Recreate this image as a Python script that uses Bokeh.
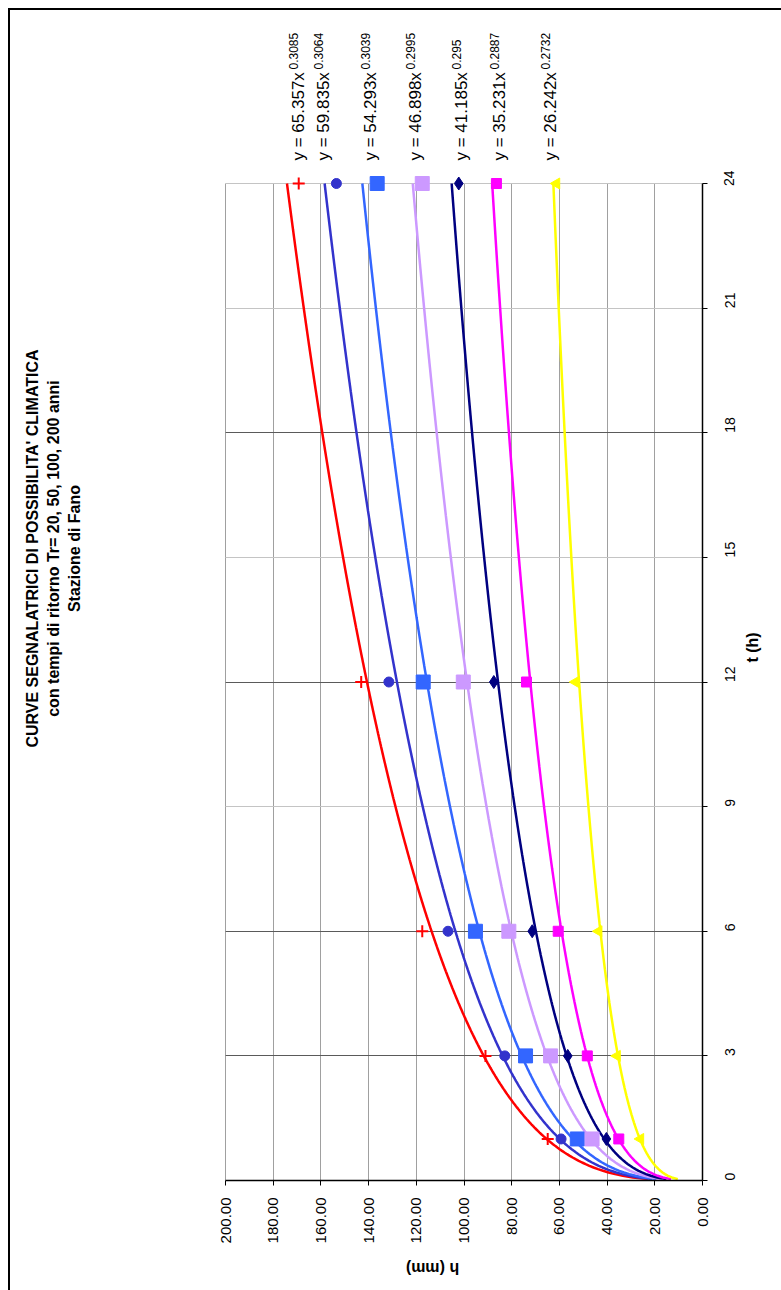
import numpy as np
from math import pi
from bokeh.plotting import figure
from bokeh.layouts import row, column
from bokeh.models import Range1d, SingleIntervalTicker, FixedTicker, PrintfTickFormatter, Grid
from bokeh.core.properties import value
from bokeh.embed import file_html
from bokeh.resources import INLINE

# ---- data ----
durations = [1, 3, 6, 12, 24]                      # t (h)
h_series1 = [64.9, 91.0, 117.5, 143.1, 169.3]       # red +
h_series2 = [59.3, 82.9, 106.7, 131.5, 153.5]       # blue circle
h_series3 = [52.5, 74.2, 95.2, 117.1, 136.4]        # light blue square
h_series4 = [46.3, 63.7, 81.2, 100.3, 117.5]        # lilac square
h_series5 = [40.3, 56.5, 71.4, 87.5, 102.2]         # navy diamond
h_series6 = [35.1, 48.3, 60.5, 73.8, 86.4]          # magenta square
h_series7 = [26.0, 35.8, 43.5, 53.2, 61.2]          # yellow triangle

# power-law trendline coefficients printed on the chart: y = a * x^b
trend_a = [65.357, 59.835, 54.293, 46.898, 41.185, 35.231, 26.242]
trend_b = [0.3085, 0.3064, 0.3039, 0.2995, 0.295, 0.2887, 0.2732]
trend_a_txt = ["65.357", "59.835", "54.293", "46.898", "41.185", "35.231", "26.242"]
trend_b_txt = ["0.3085", "0.3064", "0.3039", "0.2995", "0.295", "0.2887", "0.2732"]
trend_t_start = 1 / 30
trend_t_end = 24

h_max = 200
t_max = 24
h_tick_step = 20
t_tick_step = 3
t_dark_lines = [3, 6, 12, 18]
title_lines = ["CURVE SEGNALATRICI DI POSSIBILITA' CLIMATICA",
               "con tempi di ritorno Tr= 20, 50, 100, 200 anni",
               "Stazione di Fano"]
x_label = "h (mm)"
y_label = "t (h)"

# ---- styles ----
colors = ["#ff0000", "#3333cc", "#3366ff", "#cc99ff", "#000080", "#ff00ff", "#ffff00"]
FONT = "Liberation Sans"

# page layout (page px): content starts at (10,10); plot area h 200..0 -> x 225..702,
# t 0..24 -> y 1180..183
PX_PER_MM = 477 / 200
PX_PER_H = 997 / 24
def hx(px):
    return (702 - px) / PX_PER_MM
def ty(py):
    return (1180 - py) / PX_PER_H

LEFT_W = 150          # page x 10..160   : title strip
EQ_H = 160            # page y 10..170   : equation strip
RIGHT_W = 621         # page x 160..781
P_W = 582             # page x 160..742  : plot + tick labels
RS_W = RIGHT_W - P_W  # page x 742..781  : "t (h)"
P_H = 1080            # page y 170..1250 : plot + tick labels
BS_H = 40             # page y 1250..1290: "h (mm)"

x_rng = Range1d(hx(160), 0)

def strip(width, height, x_range, y_range, right=0):
    f = figure(width=width, height=height, x_range=x_range, y_range=y_range,
               output_backend="svg", toolbar_location=None,
               x_axis_location=None, y_axis_location=None,
               min_border_left=0, min_border_right=right, min_border_top=0, min_border_bottom=0)
    f.outline_line_color = None
    f.background_fill_color = "white"
    f.border_fill_color = "white"
    f.grid.grid_line_color = None
    return f

# ---------- main chart ----------
p = figure(width=P_W, height=P_H, x_range=x_rng, y_range=Range1d(0, ty(170)),
           output_backend="svg", toolbar_location=None,
           x_axis_location="below", y_axis_location="right",
           min_border_left=0, min_border_right=P_W - 542, min_border_top=0,
           min_border_bottom=P_H - 1010)
p.background_fill_color = "white"
p.border_fill_color = "white"
p.outline_line_color = None

xa = p.xaxis[0]
xa.bounds = (0, h_max)
xa.ticker = SingleIntervalTicker(interval=h_tick_step, num_minor_ticks=0)
xa.formatter = PrintfTickFormatter(format="%.2f")
xa.major_label_orientation = pi / 2
xa.major_label_text_font = FONT
xa.major_label_text_font_size = "15px"
xa.major_label_text_color = "black"
xa.major_tick_out = 5
xa.major_tick_in = 0
xa.minor_tick_out = 0
xa.major_label_standoff = 12
xa.axis_line_color = "black"
xa.axis_line_width = 1.5
xa.major_tick_line_color = "black"

ya = p.yaxis[0]
ya.bounds = (0, t_max)
ya.ticker = SingleIntervalTicker(interval=t_tick_step, num_minor_ticks=0)
ya.major_label_orientation = pi / 2
ya.major_label_text_font = FONT
ya.major_label_text_font_size = "14px"
ya.major_label_text_color = "black"
ya.major_tick_out = 5
ya.major_tick_in = 0
ya.minor_tick_out = 0
ya.major_label_standoff = 22
ya.axis_line_color = "black"
ya.axis_line_width = 1.5
ya.major_tick_line_color = "black"

p.xgrid.grid_line_color = "#a0a0a0"
p.xgrid.grid_line_width = 1
p.xgrid.cross_bounds = (0, t_max)
p.ygrid.grid_line_color = "#c4c4c4"
p.ygrid.grid_line_width = 1
p.ygrid.cross_bounds = (0, h_max)
dark = Grid(dimension=1, ticker=FixedTicker(ticks=t_dark_lines), grid_line_color="#5a5a5a",
            grid_line_width=1.2, cross_bounds=(0, h_max))
p.add_layout(dark)

# trendlines
t_curve = np.linspace(trend_t_start, trend_t_end, 600)
for a, b, c in zip(trend_a, trend_b, colors):
    p.line(x=a * t_curve ** b, y=t_curve, line_color=c, line_width=2.5)

# data markers
p.scatter(x=h_series1, y=durations, marker="cross", size=12, line_color=colors[0], line_width=2)
p.scatter(x=h_series2, y=durations, marker="circle", size=10, fill_color=colors[1], line_color=colors[1])
p.scatter(x=h_series3, y=durations, marker="square", size=14, fill_color=colors[2], line_color=colors[2])
p.scatter(x=h_series4, y=durations, marker="square", size=14, fill_color=colors[3], line_color=colors[3])
p.scatter(x=h_series5, y=durations, marker="diamond", size=13, fill_color=colors[4], line_color=colors[4])
p.scatter(x=h_series6, y=durations, marker="square", size=10, fill_color=colors[5], line_color=colors[5])
p.scatter(x=h_series7, y=durations, marker="triangle", size=11, angle=pi / 2,
          fill_color=colors[6], line_color=colors[6])

# ---------- equation strip (above the plot, shares the h scale) ----------
eq = strip(RIGHT_W, EQ_H, x_rng, Range1d(0, EQ_H), right=79)
eq_x = [hx(v) for v in [298, 323, 370, 415, 461, 499, 550]]
eq_y = [170 - 160] * len(eq_x)
eq.text(x=eq_x, y=eq_y, text=["y = " + a + "x" for a in trend_a_txt], angle=pi / 2,
        text_align="left", text_baseline="middle", text_font=value(FONT),
        text_font_size="17px", text_color="black")
eq.text(x=eq_x, y=eq_y, text=trend_b_txt, angle=pi / 2, x_offset=-5, y_offset=-91,
        text_align="left", text_baseline="middle", text_font=value(FONT),
        text_font_size="12px", text_color="black")

# ---------- right strip: t axis title ----------
rs = strip(RS_W, P_H, Range1d(742, 781), Range1d(0, P_H))
rs.text(x=[752], y=[1250 - 680], text=[y_label], angle=pi / 2,
        text_align="center", text_baseline="middle", text_font=value(FONT),
        text_font_style="bold", text_font_size="16px", text_color="black")

# ---------- bottom strip: h axis title ----------
bs = strip(RIGHT_W, BS_H, x_rng, Range1d(0, BS_H), right=79)
bs.text(x=[hx(432)], y=[1290 - 1268], text=[x_label], angle=pi,
        text_align="center", text_baseline="middle", text_font=value(FONT),
        text_font_style="bold", text_font_size="16px", text_color="black")

# ---------- title strip (left) ----------
tl = strip(LEFT_W, EQ_H + P_H + BS_H, Range1d(10, 160), Range1d(0, EQ_H + P_H + BS_H))
tl.text(x=[32, 53, 74], y=[1290 - 548] * 3, text=title_lines, angle=pi / 2,
        text_align="center", text_baseline="middle", text_font=value(FONT),
        text_font_style="bold", text_font_size="16px", text_color="black")

layout = row(tl, column(eq, row(p, rs, spacing=0), bs, spacing=0), spacing=0,
             styles={"margin-left": "8px", "margin-top": "8px",
                     "border-left": "2px solid black", "border-top": "2px solid black"})

open("out.html", "w").write(file_html(layout, INLINE))
